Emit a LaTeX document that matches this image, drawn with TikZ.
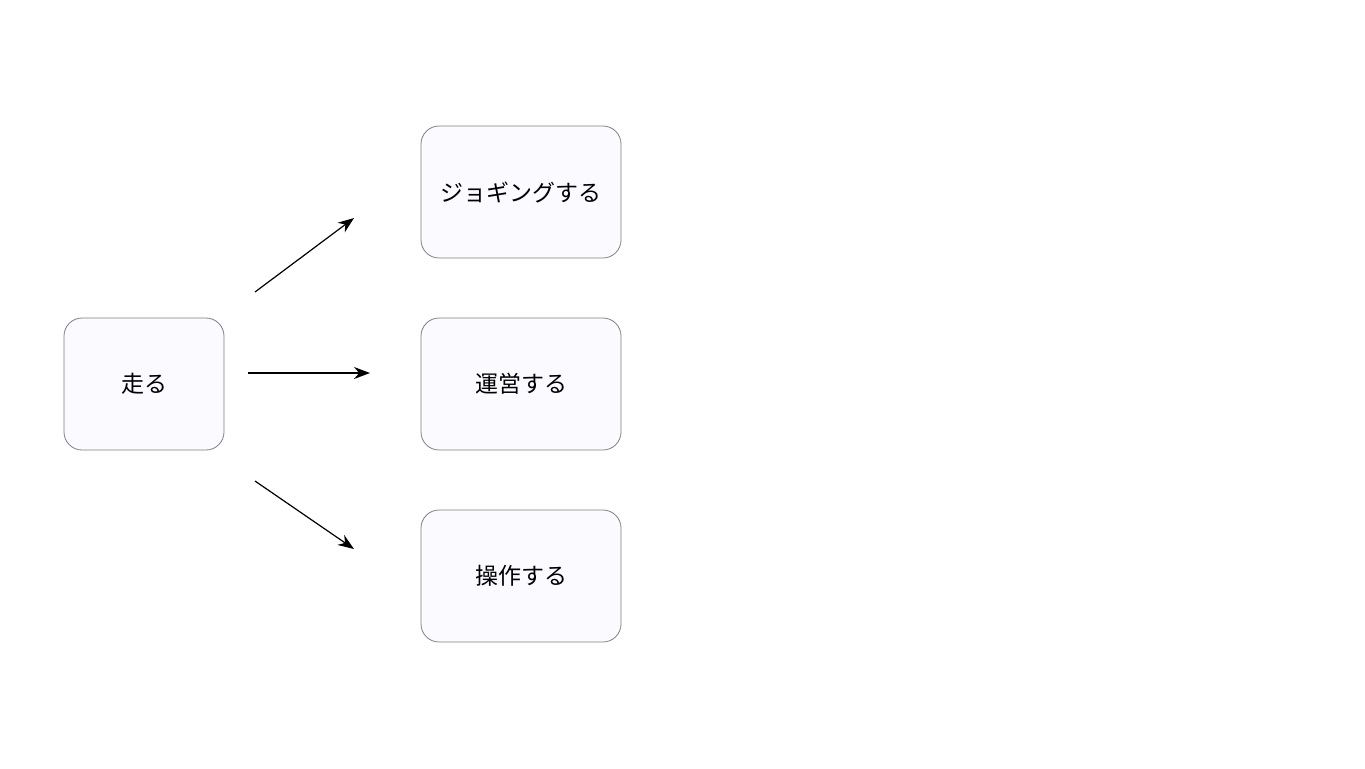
\documentclass[tikz,border=0pt]{standalone}
\usepackage{fontspec}
\setmainfont{Noto Sans CJK JP}
\usetikzlibrary{arrows.meta}
\begin{document}
\begin{tikzpicture}[x=0.5pt,y=-0.5pt,>={Stealth[length=8pt,width=6pt]},
                    semithick]

  \tikzset{verb/.style={rectangle,rounded corners=9pt,draw=black!50,
      fill=black!4!blue!2!white,thin,minimum width=100pt,minimum height=66pt,
      font=\fontsize{11.5pt}{13pt}\selectfont}}

  \useasboundingbox (0,0) rectangle (1365,768);

  \node[verb,minimum width=80pt] (run) at (144,384) {走る};
  \node[verb] (jog) at (521,192) {ジョギングする};
  \node[verb] (man) at (521,384) {運営する};
  \node[verb] (ope) at (521,576) {操作する};

  \coordinate (jogS) at (255,292); \coordinate (jogE) at (354,218);
  \coordinate (manS) at (248,373); \coordinate (manE) at (370,373);
  \coordinate (opeS) at (255,481); \coordinate (opeE) at (354,549);

  \draw[->] (jogS) -- (jogE);
  \draw[->] (manS) -- (manE);
  \draw[->] (opeS) -- (opeE);
\end{tikzpicture}
\end{document}
